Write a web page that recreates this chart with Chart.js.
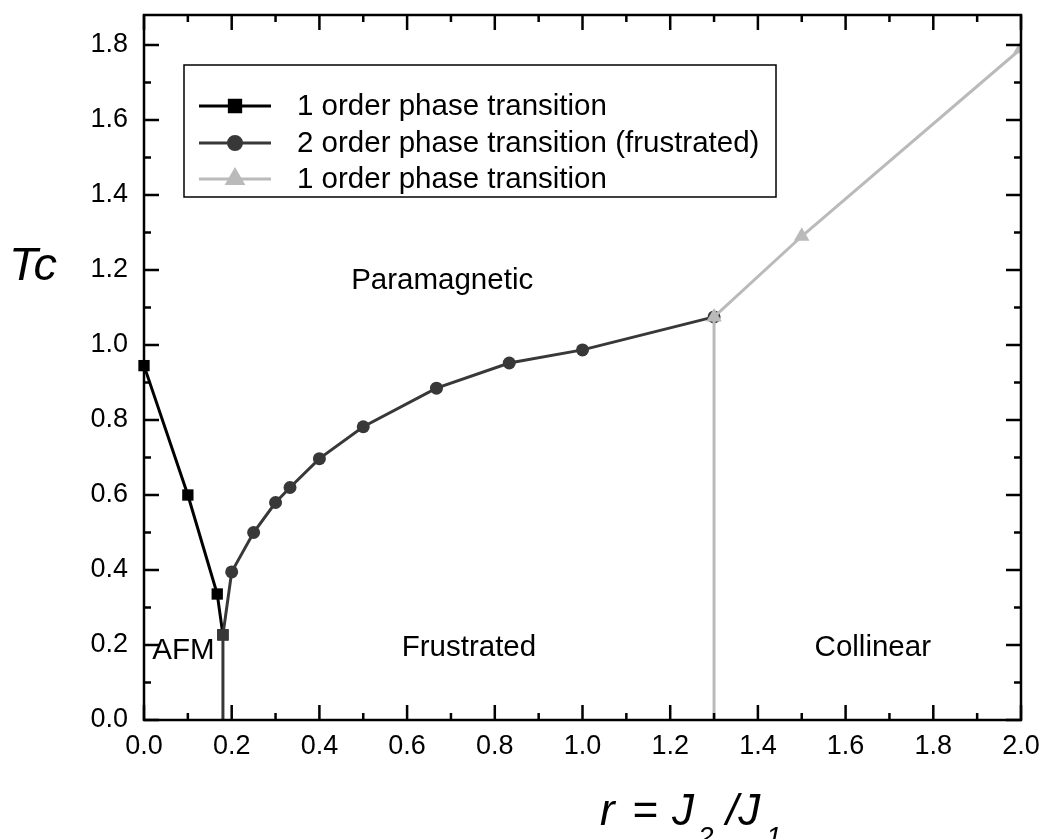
<!DOCTYPE html>
<html>
<head>
<meta charset="utf-8">
<script src="https://cdn.jsdelivr.net/npm/chart.js@4.4.0/dist/chart.umd.min.js"></script>
<style>
  body { margin: 0; background: #fff; }
  canvas { display: block; }
</style>
</head>
<body>
<canvas id="phaseChart" width="1043" height="839"></canvas>
<script>
// values
const afmR = [0, 0.1, 0.167, 0.18];
const afmTc = [0.945, 0.60, 0.336, 0.227];

const frustR = [0.18, 0.18, 0.2, 0.25, 0.3, 0.333, 0.4, 0.5, 0.667, 0.833, 1.0, 1.3];
const frustTc = [0, 0.227, 0.395, 0.50, 0.58, 0.62, 0.697, 0.782, 0.885, 0.952, 0.987, 1.075];

const collR = [1.3, 1.3, 1.5, 2.0];
const collTc = [0, 1.075, 1.29, 1.79];

const seriesNames = [
  '1 order phase transition',
  '2 order phase transition (frustrated)',
  '1 order phase transition'
];
const regionNames = ['Paramagnetic', 'Frustrated', 'Collinear', 'AFM'];

const FONT = '"Liberation Sans", Arial, sans-serif';

function toPoints(xs, ys) {
  return xs.map(function(x, i) { return { x: x, y: ys[i] }; });
}

const decor = {
  id: 'decor',
  afterDatasetsDraw: function(chart) {
    const ctx = chart.ctx;
    const a = chart.chartArea;
    const xs = chart.scales.x;
    const ys = chart.scales.y;
    ctx.save();

    // inward ticks on all four sides
    ctx.strokeStyle = '#000';
    ctx.lineWidth = 2.5;
    const major = 15, minor = 7;
    const xt = xs.ticks.map(function(t) { return t.value; });
    const yt = ys.ticks.map(function(t) { return t.value; });
    function withMinors(vals, max) {
      const out = [];
      for (let i = 0; i < vals.length; i++) {
        out.push([vals[i], major]);
        const step = i + 1 < vals.length ? vals[i + 1] - vals[i] : vals[i] - vals[i - 1];
        const mid = vals[i] + step / 2;
        if (mid <= max + 1e-9) out.push([mid, minor]);
      }
      return out;
    }
    ctx.beginPath();
    withMinors(xt, xs.max).forEach(function(t) {
      const px = xs.getPixelForValue(t[0]);
      ctx.moveTo(px, a.bottom); ctx.lineTo(px, a.bottom - t[1]);
      ctx.moveTo(px, a.top); ctx.lineTo(px, a.top + t[1]);
    });
    withMinors(yt, ys.max).forEach(function(t) {
      const py = ys.getPixelForValue(t[0]);
      ctx.moveTo(a.left, py); ctx.lineTo(a.left + t[1], py);
      ctx.moveTo(a.right, py); ctx.lineTo(a.right - t[1], py);
    });
    ctx.stroke();

    // frame
    ctx.lineWidth = 2.5;
    ctx.strokeRect(a.left, a.top, a.right - a.left, a.bottom - a.top);

    // legend box
    ctx.fillStyle = '#fff';
    ctx.lineWidth = 1.5;
    ctx.fillRect(184, 65, 592, 132);
    ctx.strokeRect(184, 65, 592, 132);
    const rows = [106, 143, 179];
    chart.data.datasets.forEach(function(ds, i) {
      const y = rows[i];
      ctx.strokeStyle = ds.borderColor;
      ctx.lineWidth = 3;
      ctx.beginPath();
      ctx.moveTo(199, y); ctx.lineTo(271, y);
      ctx.stroke();
      ctx.fillStyle = ds.borderColor;
      Chart.helpers.drawPoint(ctx, {
        pointStyle: ds.legendStyle, radius: ds.legendRadius, borderWidth: 1
      }, 235, y);
      ctx.fillStyle = '#000';
      ctx.font = '29.5px ' + FONT;
      ctx.textBaseline = 'middle';
      ctx.textAlign = 'left';
      ctx.fillText(ds.label, 297, y + 1);
    });

    // region labels
    ctx.fillStyle = '#000';
    ctx.font = '29.5px ' + FONT;
    ctx.textAlign = 'center';
    ctx.textBaseline = 'middle';
    const spots = [[0.68, 1.17], [0.741, 0.192], [1.662, 0.192], [0.09, 0.184]];
    regionNames.forEach(function(name, i) {
      ctx.fillText(name, xs.getPixelForValue(spots[i][0]), ys.getPixelForValue(spots[i][1]));
    });

    // axis titles
    ctx.textAlign = 'left';
    ctx.textBaseline = 'alphabetic';
    ctx.font = 'italic 47px ' + FONT;
    ctx.fillText('Tc', 9, 280);
    ctx.font = 'italic 44px ' + FONT;
    ctx.fillText('r', 600, 825);
    ctx.fillText('=', 632, 825);
    ctx.fillText('J', 672, 825);
    ctx.fillText('/J', 726, 825);
    ctx.font = 'italic 28px ' + FONT;
    ctx.fillText('2', 698, 846);
    ctx.fillText('1', 766, 846);
    ctx.restore();
  }
};

const config = {
  type: 'line',
  data: {
    datasets: [
      {
        label: seriesNames[0],
        data: toPoints(afmR, afmTc),
        borderColor: '#000000',
        backgroundColor: '#000000',
        borderWidth: 3,
        pointStyle: 'rect',
        pointRadius: 8,
        pointBorderWidth: 0,
        legendStyle: 'rect',
        legendRadius: 8,
        order: 2,
        clip: false
      },
      {
        label: seriesNames[1],
        data: toPoints(frustR, frustTc),
        borderColor: '#383838',
        backgroundColor: '#383838',
        borderWidth: 3,
        pointStyle: ['circle', 'rect', 'circle', 'circle', 'circle', 'circle', 'circle', 'circle', 'circle', 'circle', 'circle', 'circle'],
        pointRadius: [0, 8, 6.5, 6.5, 6.5, 6.5, 6.5, 6.5, 6.5, 6.5, 6.5, 6.5],
        pointBorderWidth: 0,
        legendStyle: 'circle',
        legendRadius: 6.5,
        order: 1,
        clip: { left: 10, top: 10, right: 10, bottom: 0 }
      },
      {
        label: seriesNames[2],
        data: toPoints(collR, collTc),
        borderColor: '#bababa',
        backgroundColor: '#bababa',
        borderWidth: 3,
        pointStyle: 'triangle',
        pointRadius: [0, 9, 9, 9],
        pointBorderWidth: 0,
        legendStyle: 'triangle',
        legendRadius: 9,
        order: 0,
        clip: { left: 10, top: 10, right: 0, bottom: 0 }
      }
    ]
  },
  options: {
    responsive: false,
    animation: false,
    layout: { padding: { top: 15, right: 22, left: 0, bottom: 0 } },
    plugins: {
      legend: { display: false },
      tooltip: { enabled: false }
    },
    elements: { line: { tension: 0 } },
    scales: {
      x: {
        type: 'linear',
        min: 0,
        max: 2,
        grid: { display: false, drawTicks: false },
        border: { display: false },
        ticks: {
          stepSize: 0.2,
          padding: 10,
          color: '#000',
          font: { family: FONT, size: 27 },
          maxRotation: 0,
          callback: function(v) { return v.toFixed(1); }
        },
        afterFit: function(scale) {
          scale.height = 119;
          scale.paddingLeft = 0;
          scale.paddingRight = 0;
        }
      },
      y: {
        type: 'linear',
        min: 0,
        max: 1.88,
        grid: { display: false, drawTicks: false },
        border: { display: false },
        ticks: {
          stepSize: 0.2,
          includeBounds: false,
          padding: 16,
          color: '#000',
          font: { family: FONT, size: 27 },
          callback: function(v) { return v.toFixed(1); }
        },
        afterFit: function(scale) {
          scale.width = 144;
          scale.paddingTop = 0;
          scale.paddingBottom = 0;
        }
      }
    }
  },
  plugins: [decor]
};

const phaseChart = new Chart(document.getElementById('phaseChart'), config);
</script>
</body>
</html>
